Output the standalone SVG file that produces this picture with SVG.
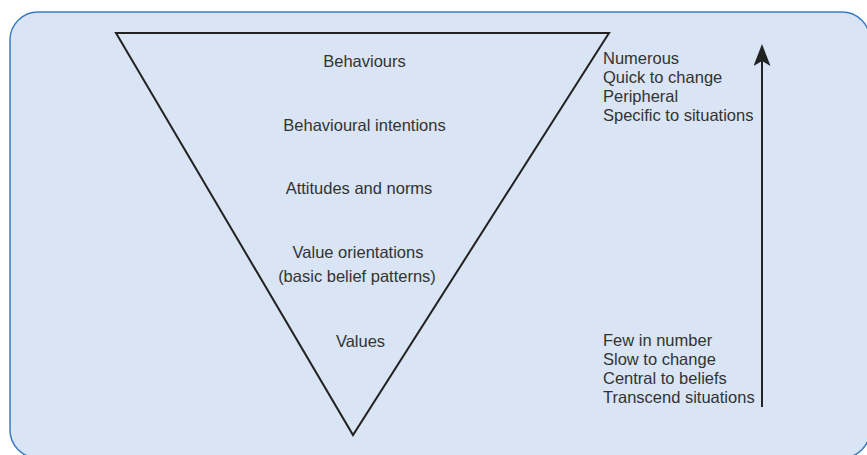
<svg xmlns="http://www.w3.org/2000/svg" width="867" height="455" viewBox="0 0 867 455">
<defs>
<style>
.t{font-family:"Liberation Sans",Arial,sans-serif;font-size:16.5px;fill:#333}
.m{text-anchor:middle}
.ln{stroke:#222;stroke-width:2;fill:none}
</style>
<marker id="ah" viewBox="0 0 22 17" refX="6" refY="8.5" markerWidth="22" markerHeight="17" markerUnits="userSpaceOnUse" orient="auto">
<path d="M0 0 L22 8.5 L0 17 L5 8.5 Z" fill="#222"/>
</marker>
</defs>
<rect width="867" height="455" fill="#fff"/>
<rect id="panel" x="10" y="12" width="860" height="446" rx="28" fill="#d9e4f4" stroke="#3b7cc0" stroke-width="1.5"/>
<g id="pyramid">
<polygon class="ln" points="116,33 609,33 353,435"/>
</g>
<g id="levels">
<text class="t m" x="364.5" y="67">Behaviours</text>
<text class="t m" x="364.5" y="131">Behavioural intentions</text>
<text class="t m" x="359" y="194">Attitudes and norms</text>
<text class="t m" x="358" y="258">Value orientations</text>
<text class="t m" x="357" y="282">(basic belief patterns)</text>
<text class="t m" x="360.5" y="347">Values</text>
</g>
<g id="top-props">
<text class="t" x="603" y="64">Numerous</text>
<text class="t" x="603" y="83">Quick to change</text>
<text class="t" x="603" y="102">Peripheral</text>
<text class="t" x="603" y="121">Specific to situations</text>
</g>
<g id="bottom-props">
<text class="t" x="603" y="346">Few in number</text>
<text class="t" x="603" y="365">Slow to change</text>
<text class="t" x="603" y="384">Central to beliefs</text>
<text class="t" x="603" y="403">Transcend situations</text>
</g>
<g id="connectors">
<line class="ln" x1="762" y1="407" x2="762" y2="60" marker-end="url(#ah)"/>
</g>
</svg>
